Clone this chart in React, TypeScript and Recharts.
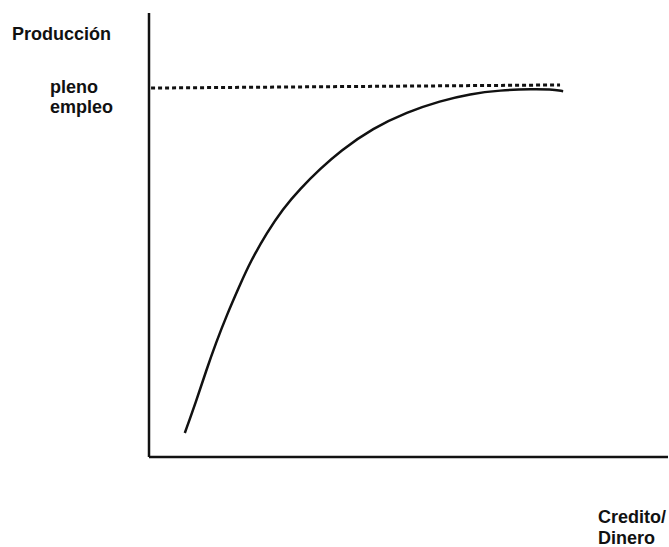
import { ComposedChart, Line, XAxis, YAxis } from 'recharts'

// credit/money (x) vs output (y), 0..100 scale both ways
const curveCredit = [6.9, 9.1, 11.0, 12.9, 15.0, 17.5, 19.5, 22.7, 25.8, 29.1, 33.0, 36.8, 43.2, 49.7, 56.1, 61.9, 67.6, 74.0, 77.3, 79.8]
const curveOutput = [5.4, 12.6, 19.4, 25.7, 32.0, 38.7, 43.9, 50.5, 55.9, 60.4, 64.9, 68.9, 74.1, 77.7, 80.2, 81.8, 82.6, 82.9, 82.8, 82.4]

const fullEmploymentCredit = [0.4, 79.2]
const fullEmploymentOutput = [83.1, 83.8]

const yAxisTitle = 'Producción'
const fullEmploymentLabel = ['pleno', 'empleo']
const xAxisTitle = ['Credito/', 'Dinero']

const curveData = curveCredit.map((x, i) => ({ x, y: curveOutput[i] }))
const dashData = fullEmploymentCredit.map((x, i) => ({ x, y: fullEmploymentOutput[i] }))

const FONT = '"Liberation Sans", Arial, sans-serif'
const INK = '#111'

const FullEmploymentTick = ({ y }: any) => (
  <text x={50} y={y + 5} fontFamily={FONT} fontWeight={700} fontSize={18} fill={INK}>
    <tspan x={50}>{fullEmploymentLabel[0]}</tspan>
    <tspan x={50} dy={20}>{fullEmploymentLabel[1]}</tspan>
  </text>
)

const YTitle = () => (
  <text x={12} y={40} fontFamily={FONT} fontWeight={700} fontSize={18} fill={INK}>
    {yAxisTitle}
  </text>
)

const XTitle = () => (
  <text x={598} y={523} fontFamily={FONT} fontWeight={700} fontSize={18} fill={INK}>
    <tspan x={598}>{xAxisTitle[0]}</tspan>
    <tspan x={598} dy={21}>{xAxisTitle[1]}</tspan>
  </text>
)

export default function App() {
  return (
    <div style={{ position: 'absolute', left: 0, top: 0, width: 669, height: 547, background: '#fff' }}>
      <ComposedChart width={669} height={547} margin={{ top: 13, right: 1, left: 0, bottom: 0 }}>
        <XAxis
          type="number"
          dataKey="x"
          domain={[0, 100]}
          height={90}
          tick={false}
          tickLine={false}
          axisLine={{ stroke: INK, strokeWidth: 2.5 }}
          label={{ content: <XTitle /> }}
        />
        <YAxis
          type="number"
          dataKey="y"
          domain={[0, 100]}
          width={149}
          ticks={[fullEmploymentOutput[0]]}
          tick={<FullEmploymentTick />}
          tickLine={false}
          axisLine={{ stroke: INK, strokeWidth: 2.5 }}
          label={{ content: <YTitle /> }}
        />
        <Line
          data={dashData}
          dataKey="y"
          type="linear"
          stroke={INK}
          strokeWidth={3}
          strokeDasharray="4 3"
          dot={false}
          isAnimationActive={false}
        />
        <Line
          data={curveData}
          dataKey="y"
          type="basis"
          stroke={INK}
          strokeWidth={2.5}
          dot={false}
          isAnimationActive={false}
        />
      </ComposedChart>
    </div>
  )
}
